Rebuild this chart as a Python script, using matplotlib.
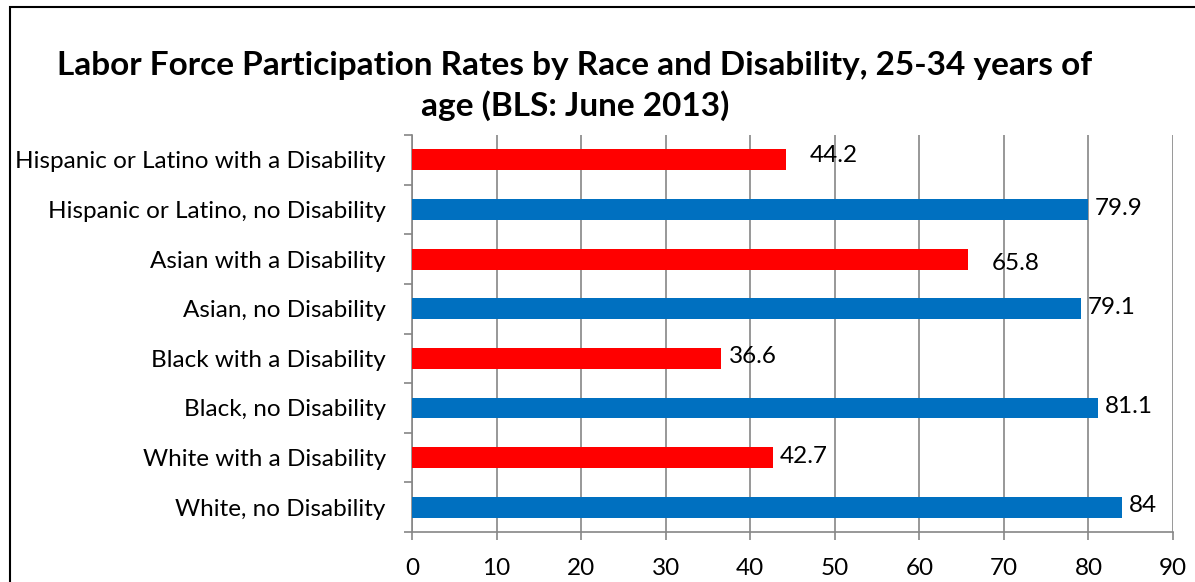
import matplotlib
matplotlib.use("Agg")
import matplotlib.pyplot as plt
from matplotlib.patches import Rectangle

# data (bottom to top, as drawn)
categories = [
    "White, no Disability",
    "White with a Disability",
    "Black, no Disability",
    "Black with a Disability",
    "Asian, no Disability",
    "Asian with a Disability",
    "Hispanic or Latino, no Disability",
    "Hispanic or Latino with a Disability",
]
rates = [84, 42.7, 81.1, 36.6, 79.1, 65.8, 79.9, 44.2]
value_labels = ["84", "42.7", "81.1", "36.6", "79.1", "65.8", "79.9", "44.2"]
x_ticks = [0, 10, 20, 30, 40, 50, 60, 70, 80, 90]

blue = "#0070C0"
red = "#FF0000"
colors = [blue if "no Disability" in c else red for c in categories]

plt.rcParams['font.family'] = ['Lato', 'DejaVu Sans']

fig = plt.figure(figsize=(11.95, 5.82), dpi=100)
ax = fig.add_axes([0.3448, 0.0859, 0.6368, 0.682])

y = list(range(len(categories)))
ax.barh(y, rates, height=0.42, color=colors, zorder=3)

# label nudges in points (dx, dy) for the few Excel labels that were moved
nudge = {5: (17, -3), 7: (17, 3)}
for i, v in enumerate(rates):
    dx, dy = nudge.get(i, (5, 1))
    ax.annotate(value_labels[i], (v, i), xytext=(dx, dy), textcoords="offset points",
                va="center", ha="left", fontsize=17.5)

ax.set_xlim(0, 90)
ax.set_ylim(-0.5, len(categories) - 0.5)
ax.set_xticks(x_ticks)
ax.set_xticklabels([str(t) for t in x_ticks], fontsize=17.5)
ax.set_yticks(y)
ax.set_yticklabels(categories, fontsize=17.5)
ax.set_yticks([i - 0.5 for i in range(len(categories) + 1)], minor=True)
ax.tick_params(axis="y", which="major", length=0, pad=19)
ax.tick_params(axis="y", which="minor", length=6, color="#868686", width=1.2)
ax.tick_params(axis="x", length=6, color="#868686", width=1.2, pad=13)
ax.grid(axis="x", color="#868686", linewidth=1.2, zorder=0)
for side in ["top", "right"]:
    ax.spines[side].set_visible(False)
for side in ["left", "bottom"]:
    ax.spines[side].set_color("#868686")
    ax.spines[side].set_linewidth(1.2)

fig.text(0.481, 0.852, "Labor Force Participation Rates by Race and Disability, 25-34 years of\nage (BLS: June 2013)",
         ha="center", va="center", fontsize=24, fontweight="bold", linespacing=1.38)

# chart-area border (cut at the right and bottom edges of the image)
fig.patches.append(Rectangle((10 / 1195, -0.1), 1.2, 1.1 - 7 / 582, transform=fig.transFigure,
                             fill=False, edgecolor="black", linewidth=1.5))

fig.savefig("out.png", dpi=100)
